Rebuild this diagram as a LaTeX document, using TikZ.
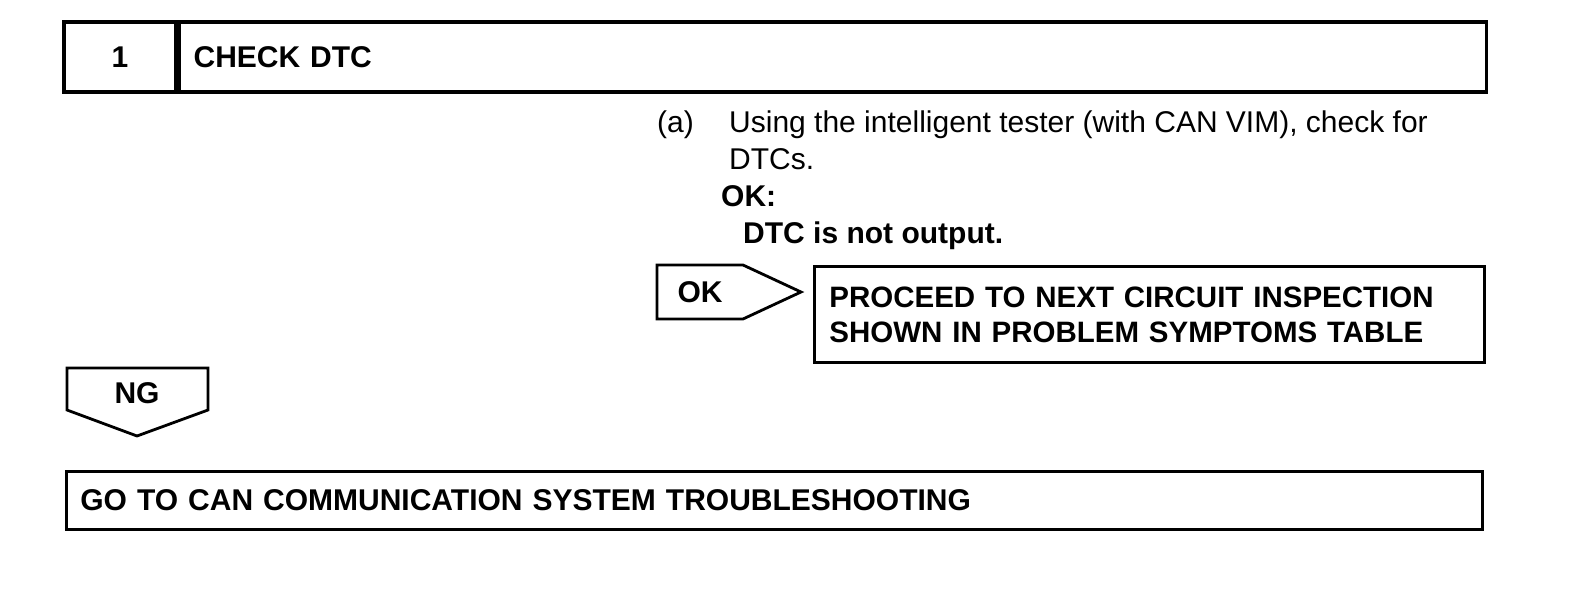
\documentclass[tikz,border=0pt]{standalone}
\usepackage{fontspec}
\setmainfont{Liberation Sans}
\newcommand\manualsize{\fontsize{30}{36}\selectfont}

\begin{document}
\begin{tikzpicture}[x=1pt,y=-1pt,line join=miter,
  headbox/.style={draw,line width=3.6pt,inner sep=0pt,font=\manualsize\bfseries},
  stepbox/.style={draw,line width=2.8pt,inner ysep=0pt,inner xsep=15pt,align=left,
    font=\manualsize\bfseries},
  pointer/.style={draw,line width=2.8pt},
  plain/.style={inner sep=0pt,anchor=base west,font=\manualsize}]
  \useasboundingbox (0,0) rectangle (1584,608);
  % header of the step
  \node[headbox,minimum width=112,minimum height=70] (num) at (120,57) {1};
  \node[headbox,minimum height=70,anchor=west,text width=1279,inner xsep=14pt,
    align=left] (title) at (num.east) {CHECK DTC};
  % procedure text
  \node[plain] (item) at (657,132) {(a)};
  \node[plain] (line1) at (729,132) {Using the intelligent tester (with CAN VIM), check for};
  \node[plain] (line2) at (729,169) {DTCs.};
  \node[plain,font=\manualsize\bfseries] (line3) at (721,206) {OK:};
  \node[plain,font=\manualsize\bfseries] (line4) at (743,243) {DTC is not output.};
  % OK branch
  \draw[pointer] (657,265) -- (743,265) -- (801,292) -- (743,319) -- (657,319) -- cycle;
  \node[font=\manualsize\bfseries] (ok) at (700,292) {OK};
  \node[stepbox,anchor=north west,minimum height=96,text width=640,
    font=\fontsize{29.5}{35}\selectfont\bfseries] (next) at (813,265)
    {PROCEED TO NEXT CIRCUIT INSPECTION\\SHOWN IN PROBLEM SYMPTOMS TABLE};
  % NG branch
  \draw[pointer] (67,368) -- (208,368) -- (208,410) -- (137,436) -- (67,410) -- cycle;
  \node[font=\manualsize\bfseries] (ng) at (137,393) {NG};
  \node[stepbox,anchor=north west,minimum height=58,text width=1388,inner xsep=14pt]
    (can) at (65,470) {GO TO CAN COMMUNICATION SYSTEM TROUBLESHOOTING};
\end{tikzpicture}
\end{document}
